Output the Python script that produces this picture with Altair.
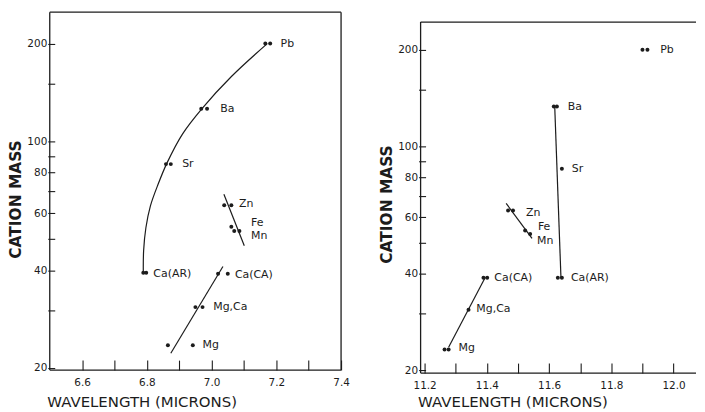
import altair as alt
import pandas as pd

FONT = "DejaVu Sans"
INK = "#1c1c1c"

# ---------------- left panel (about 7 microns) ----------------
L_el = ["Pb", "Pb", "Ba", "Ba", "Sr", "Sr", "Zn", "Zn", "Fe", "Fe", "Mn",
        "Ca(AR)", "Ca(AR)", "Ca(CA)", "Ca(CA)", "Mg,Ca", "Mg,Ca", "Mg", "Mg"]
L_wl = [7.166, 7.181, 6.968, 6.986, 6.859, 6.874, 7.039, 7.061, 7.061, 7.070, 7.086,
        6.789, 6.798, 7.020, 7.050, 6.950, 6.972, 6.865, 6.942]
L_mass = [200, 200, 126, 126, 85, 85, 63.5, 63.5, 54.5, 52.9, 52.9,
          39.3, 39.3, 39.0, 39.0, 30.8, 30.8, 23.5, 23.5]

L_lab = ["Pb", "Ba", "Sr", "Zn", "Fe", "Mn", "Ca(AR)", "Ca(CA)", "Mg,Ca", "Mg"]
L_lab_wl = [7.213, 7.027, 6.909, 7.085, 7.122, 7.122, 6.820, 7.072, 7.005, 6.972]
L_lab_mass = [200, 126, 85, 64, 55.8, 51.1, 39.0, 38.6, 30.8, 23.5]

L_seg = ["curve"] * 10 + ["ZnMn"] * 2 + ["MgCa"] * 2
L_seg_wl = [6.789, 6.790, 6.797, 6.811, 6.835, 6.862, 6.910, 6.971, 7.062, 7.172,
            7.038, 7.101, 6.874, 7.035]
L_seg_mass = [39.3, 46.0, 54.1, 63.2, 73.8, 85.6, 105.2, 126.3, 158.6, 200,
              68.6, 47.6, 22.2, 41.1]

L_xticks = [6.6, 6.7, 6.8, 6.9, 7.0, 7.1, 7.2, 7.3, 7.4]
L_xlabels = [6.6, 6.8, 7.0, 7.2, 7.4]
L_xdom = [6.5, 7.4]
L_ydom = [19.7, 250]
L_ytop = 250

# ---------------- right panel (about 11.5 microns) ----------------
R_el = ["Pb", "Pb", "Ba", "Ba", "Sr", "Zn", "Zn", "Fe", "Mn", "Ca(AR)", "Ca(AR)",
        "Ca(CA)", "Ca(CA)", "Mg,Ca", "Mg", "Mg"]
R_wl = [11.900, 11.916, 11.615, 11.625, 11.641, 11.468, 11.484, 11.523, 11.539,
        11.628, 11.641, 11.389, 11.401, 11.341, 11.264, 11.277]
R_mass = [200, 200, 133, 133, 85, 63, 63, 54.6, 53.2, 38.9, 38.9,
          38.9, 38.9, 30.9, 23.2, 23.2]

R_lab = ["Pb", "Ba", "Sr", "Zn", "Fe", "Mn", "Ca(CA)", "Ca(AR)", "Mg,Ca", "Mg"]
R_lab_wl = [11.957, 11.660, 11.673, 11.526, 11.564, 11.561, 11.424, 11.670, 11.366, 11.309]
R_lab_mass = [200, 133, 85, 62, 55.8, 50.6, 38.9, 38.9, 31, 23.4]

R_seg = ["BaCa"] * 2 + ["ZnMn"] * 2 + ["MgCa"] * 2
R_seg_wl = [11.618, 11.638, 11.462, 11.545, 11.277, 11.395]
R_seg_mass = [133, 38.9, 66.3, 51.6, 23.6, 39.0]

R_xticks = [11.2, 11.3, 11.4, 11.5, 11.6, 11.7, 11.8, 11.9, 12.0]
R_xlabels = [11.2, 11.4, 11.6, 11.8, 12.0]
R_xdom = [11.187, 12.072]
R_ydom = [19.6, 262]
R_ytop = 244

Y_TICKS = [20, 30, 40, 50, 60, 70, 80, 90, 100, 150, 200]
Y_LABELS = [20, 40, 60, 80, 100, 200]


def panel(el, wl, mass, lab, lab_wl, lab_mass, seg, seg_wl, seg_mass,
          xticks, xlabels, xdom, ydom, ytop, W, H, title_y, xtitle_pad, right_edge):
    pts = pd.DataFrame({"el": el, "wl": wl, "mass": mass})
    labs = pd.DataFrame({"text": lab, "wl": lab_wl, "mass": lab_mass})
    segs = pd.DataFrame({"seg": seg, "wl": seg_wl, "mass": seg_mass,
                         "ord": list(range(len(seg)))})

    xlab_js = "[" + ",".join(str(v) for v in xlabels) + "]"
    ylab_js = "[" + ",".join(str(v) for v in Y_LABELS) + "]"

    x = alt.X("wl:Q", title="WAVELENGTH (MICRONS)",
              scale=alt.Scale(domain=xdom, nice=False, zero=False),
              axis=alt.Axis(values=xticks,
                            labelExpr=f"indexof({xlab_js}, datum.value) >= 0 ? format(datum.value, '.1f') : ''",
                            domain=False, grid=False, tickSize=10, offset=-10,
                            labelPadding=8, labelFlush=False, labelOverlap=False,
                            titlePadding=xtitle_pad, titleAnchor="start", titleAlign="left", titleX=-3,
                            titleFontSize=15, titleFontWeight="normal"))
    y = alt.Y("mass:Q", title="CATION MASS",
              scale=alt.Scale(type="log", domain=ydom, nice=False),
              axis=alt.Axis(values=Y_TICKS,
                            labelExpr=f"indexof({ylab_js}, datum.value) >= 0 ? format(datum.value, 'd') : ''",
                            domain=False, grid=False, tickSize=7, offset=-5,
                            labelPadding=1, labelFlush=False, labelOverlap=False,
                            titlePadding=3, titleY=title_y,
                            titleFontSize=15.5, titleFontWeight="bold"))

    lines = alt.Chart(segs).mark_line(color=INK, strokeWidth=1.2, interpolate="catmull-rom").encode(
        x=x, y=y, detail="seg:N", order="ord:Q")
    dots = alt.Chart(pts).mark_circle(color=INK, size=16, opacity=1).encode(x=x, y=y)
    texts = alt.Chart(labs).mark_text(align="left", baseline="middle", font=FONT,
                                      fontSize=11, color=INK).encode(x=x, y=y, text="text:N")

    fr = dict(color=INK, strokeWidth=1.3)
    top = alt.Chart().mark_rule(**fr).encode(x=alt.value(0), x2=alt.value(W), y=alt.datum(ytop))
    left = alt.Chart().mark_rule(**fr).encode(x=alt.value(0), y=alt.datum(ytop), y2=alt.value(H))
    bottom = alt.Chart().mark_rule(**fr).encode(x=alt.value(0), x2=alt.value(W), y=alt.value(H))
    layers = [lines, dots, texts, top, left, bottom]
    if right_edge:
        layers.append(alt.Chart().mark_rule(**fr).encode(
            x=alt.value(W), y=alt.datum(ytop), y2=alt.value(H)))
    return alt.layer(*layers).properties(width=W, height=H)


left_panel = panel(L_el, L_wl, L_mass, L_lab, L_lab_wl, L_lab_mass, L_seg, L_seg_wl, L_seg_mass,
                   L_xticks, L_xlabels, L_xdom, L_ydom, L_ytop, 293, 360, 188, 6, True)
right_panel = panel(R_el, R_wl, R_mass, R_lab, R_lab_wl, R_lab_mass, R_seg, R_seg_wl, R_seg_mass,
                    R_xticks, R_xlabels, R_xdom, R_ydom, R_ytop, 277, 363, 193, 3.5, False)

chart = alt.hconcat(left_panel, right_panel, spacing=29).properties(
    padding={"left": 0, "top": 2, "right": 0, "bottom": 0},
    background="white",
).configure_view(stroke=None).configure_axis(
    labelFont=FONT, titleFont=FONT, labelFontSize=10.5, labelColor=INK,
    titleColor=INK, tickColor=INK, tickWidth=1.1,
)

chart.save("out.html", embed_options={"renderer": "svg", "actions": False})
